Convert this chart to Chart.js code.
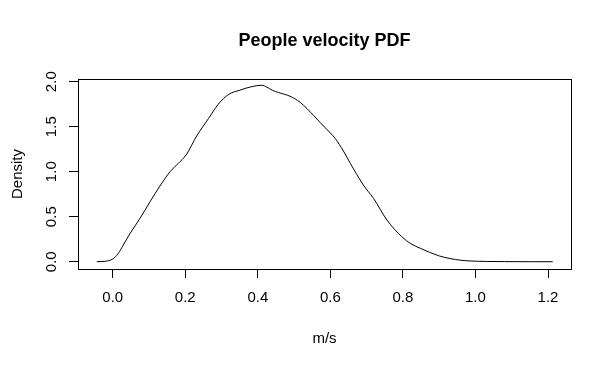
<!DOCTYPE html>
<html>
<head>
<meta charset="utf-8">
<script src="https://cdn.jsdelivr.net/npm/chart.js@4.4.1/dist/chart.umd.min.js"></script>
<style>
  html, body { margin: 0; padding: 0; background: #fff; }
  #wrap { width: 611px; height: 367px; }
</style>
</head>
<body>
<div id="wrap"><canvas id="myChart" width="611" height="367"></canvas></div>
<script>
// density curve
const velocity = [-0.044, -0.02, 0.0, 0.015, 0.029, 0.048, 0.075, 0.103, 0.130, 0.158, 0.181, 0.202,
    0.232, 0.264, 0.291, 0.32, 0.35, 0.38, 0.411, 0.425, 0.44, 0.457, 0.489, 0.517, 0.555, 0.572,
    0.6, 0.613, 0.636, 0.655, 0.691, 0.719, 0.756, 0.797, 0.822, 0.848, 0.898, 0.93, 0.96, 0.986,
    1.03, 1.08, 1.15, 1.213];
const density = [0.0, 0.005, 0.03, 0.09, 0.185, 0.315, 0.48, 0.667, 0.84, 1.0, 1.093, 1.185,
    1.40, 1.59, 1.75, 1.86, 1.905, 1.942, 1.96, 1.94, 1.905, 1.88, 1.838, 1.77, 1.62, 1.546,
    1.43, 1.371, 1.23, 1.093, 0.852, 0.704, 0.463, 0.278, 0.20, 0.149, 0.067, 0.035, 0.016, 0.008,
    0.003, 0.001, 0.0, 0.0];
const xTicks = [0.0, 0.2, 0.4, 0.6, 0.8, 1.0, 1.2];
const yTicks = [0.0, 0.5, 1.0, 1.5, 2.0];
const chartTitle = 'People velocity PDF';

const font = "'Liberation Sans', Arial, Helvetica, sans-serif";

// box round the plot area, like R's plot frame
const frame = {
    id: 'frame',
    afterDraw(chart) {
        const a = chart.chartArea;
        const c = chart.ctx;
        c.save();
        c.strokeStyle = '#000';
        c.lineWidth = 1;
        c.strokeRect(Math.round(a.left) + 0.5, Math.round(a.top) + 0.5,
            Math.round(a.right - a.left), Math.round(a.bottom - a.top));
        c.restore();
    }
};

let ctx = document.getElementById('myChart').getContext('2d');
let chart = new Chart(ctx, {
    type: 'line',
    data: {
        datasets: [{
            data: velocity.map((v, i) => ({ x: v, y: density[i] })),
            borderColor: '#000',
            borderWidth: 1,
            pointRadius: 0,
            fill: false,
            cubicInterpolationMode: 'monotone'
        }]
    },
    options: {
        responsive: false,
        animation: false,
        events: [],
        layout: { padding: { left: 0, right: 40, top: 0, bottom: 0 } },
        plugins: {
            legend: { display: false },
            tooltip: { enabled: false }
        },
        scales: {
            x: {
                type: 'linear',
                min: -0.0957,
                max: 1.2634,
                afterBuildTicks: s => { s.ticks = xTicks.map(v => ({ value: v })); },
                afterFit: s => { s.height = 98; },
                ticks: {
                    color: '#000',
                    font: { family: font, size: 15 },
                    padding: 11,
                    maxRotation: 0,
                    autoSkip: false,
                    callback: v => v.toFixed(1)
                },
                grid: { drawOnChartArea: false, tickLength: 9, color: '#000' },
                border: { display: false },
                title: {
                    display: true,
                    text: 'm/s',
                    color: '#000',
                    font: { family: font, size: 15 },
                    padding: { top: 0, bottom: 19 }
                }
            },
            // top axis only carries the main title, centred over the plot like R does
            top: {
                type: 'linear',
                position: 'top',
                min: -0.0957,
                max: 1.2634,
                afterFit: s => { s.height = 79; },
                ticks: { display: false },
                grid: { display: false },
                border: { display: false },
                title: {
                    display: true,
                    text: chartTitle,
                    color: '#000',
                    font: { family: font, size: 18, weight: 'bold' },
                    padding: { top: 30, bottom: 0 }
                }
            },
            y: {
                min: -0.081,
                max: 2.03,
                afterBuildTicks: s => { s.ticks = yTicks.map(v => ({ value: v })); },
                afterFit: s => { s.width = 78; },
                ticks: {
                    color: '#000',
                    font: { family: font, size: 15 },
                    padding: 7,
                    minRotation: 90,
                    maxRotation: 90,
                    crossAlign: 'center',
                    callback: v => v.toFixed(1)
                },
                grid: { drawOnChartArea: false, tickLength: 9, color: '#000' },
                border: { display: false },
                title: {
                    display: true,
                    text: 'Density',
                    color: '#000',
                    font: { family: font, size: 15 },
                    padding: { top: 9, bottom: 0 }
                }
            }
        }
    },
    plugins: [frame]
});
</script>
</body>
</html>
